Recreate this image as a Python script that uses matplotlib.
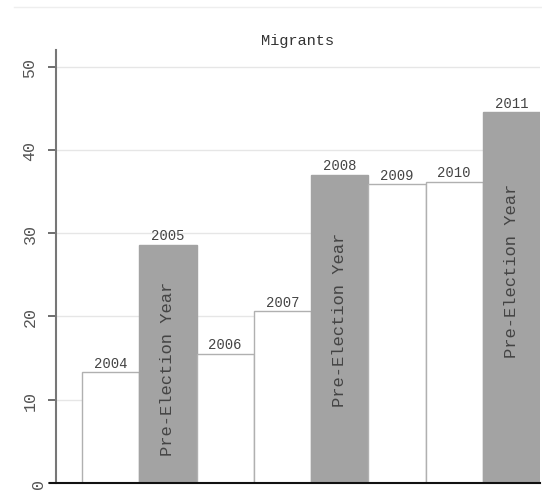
import matplotlib
matplotlib.use("Agg")
import matplotlib.pyplot as plt
from matplotlib.lines import Line2D
from matplotlib.transforms import ScaledTranslation

years = ["2004", "2005", "2006", "2007", "2008", "2009", "2010", "2011"]
values = [13.3, 28.6, 15.5, 20.6, 37.0, 35.9, 36.2, 44.5]
pre_election = [False, True, False, False, True, False, False, True]
title = "Migrants"
pre_label = "Pre-Election Year"
yticks = [0, 10, 20, 30, 40, 50]

# vertical centre of the rotated labels (data units)
pre_label_centers = {1: 13.8, 4: 19.7, 7: 25.6}

FONT = ["Liberation Mono", "DejaVu Sans Mono"]
plt.rcParams["font.family"] = FONT

fig = plt.figure(figsize=(5.42, 5.02), dpi=100)
ax = fig.add_axes([56 / 542, 18 / 502, (540 - 56) / 542, (484 - 51) / 502])

x = list(range(len(years)))
colors = ["#a3a3a3" if p else "white" for p in pre_election]
edges = ["#a3a3a3" if p else "#b0b0b0" for p in pre_election]
ax.bar(x, values, width=1.0, color=colors, edgecolor=edges, linewidth=1.0, zorder=2)

for i, (yr, v) in enumerate(zip(years, values)):
    ax.text(i, v + 0.3, yr, ha="center", va="bottom", fontsize=10, color="#444444", zorder=3)
    if pre_election[i]:
        ax.text(i, pre_label_centers[i], pre_label, rotation=90, ha="center", va="center",
                fontsize=12.3, color="#444444", zorder=3)

ax.set_xlim(-0.955, 7.5)
ax.set_ylim(0, 52.0)
ax.set_yticks(yticks)
ax.set_yticklabels([])
ax.set_xticks([])
ax.yaxis.grid(True, color="#e6e6e6", linewidth=1.0, zorder=0)
ax.set_axisbelow(True)
ax.tick_params(axis="y", length=6, color="#555555", width=1.2)

# rotated y tick labels, placed in pixels left of the axis
for t in yticks:
    dx = -18 if t == 0 else -26
    tr = ax.get_yaxis_transform() + ScaledTranslation(dx / 100, 0, fig.dpi_scale_trans)
    ax.text(0, t, str(t), rotation=90, ha="center", va="center", fontsize=12,
            color="#555555", transform=tr, clip_on=False)

for s in ["top", "right"]:
    ax.spines[s].set_visible(False)
ax.spines["left"].set_color("#777777")
ax.spines["left"].set_linewidth(1.5)
ax.spines["bottom"].set_color("#111111")
ax.spines["bottom"].set_linewidth(1.5)
ax.spines["bottom"].set_bounds(-0.955 - 6 / 57.3, 7.5)
ax.spines["bottom"].set_clip_on(False)

ax.set_title(title, fontsize=11, color="#333333", pad=4)

fig.add_artist(Line2D([14 / 542, 1.0], [1 - 8 / 502, 1 - 8 / 502], color="#eeeeee", linewidth=1.0,
                      transform=fig.transFigure))

fig.savefig("out.png", dpi=100)
